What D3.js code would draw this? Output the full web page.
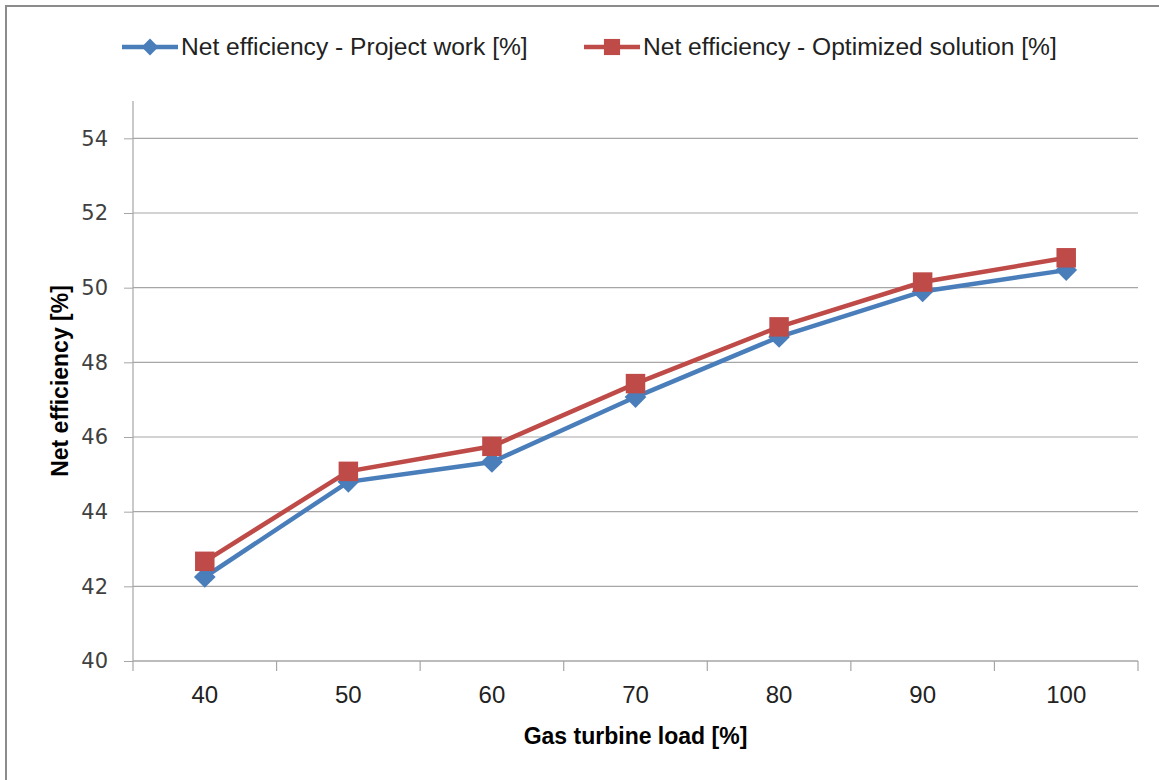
<!DOCTYPE html>
<html>
<head>
<meta charset="utf-8">
<script src="https://cdn.jsdelivr.net/npm/d3@7"></script>
<style>
  body { margin: 0; background: #fff; }
</style>
</head>
<body>
<div id="chart"></div>
<script>
// chart data
var loads = ["40", "50", "60", "70", "80", "90", "100"];
var projectWork = [42.25, 44.8, 45.33, 47.07, 48.68, 49.9, 50.47];
var optimized = [42.67, 45.08, 45.75, 47.43, 48.95, 50.15, 50.8];
var yTicks = [40, 42, 44, 46, 48, 50, 52, 54];
var seriesNames = ["Net efficiency - Project work [%]", "Net efficiency - Optimized solution [%]"];

var W = 1159, H = 780;
var margin = {top: 101, right: 21, bottom: 119, left: 133},
    width = W - margin.left - margin.right,
    height = H - margin.top - margin.bottom;

var narrow = "Liberation Sans Narrow, Arial Narrow, sans-serif";

var svg = d3.select("#chart")
  .append("svg")
    .attr("width", W)
    .attr("height", H);

// outer chart border (only left/top visible in picture)
svg.append("rect")
    .attr("x", 6).attr("y", 6)
    .attr("width", W + 10).attr("height", H + 10)
    .attr("fill", "none")
    .attr("stroke", "#8c8c8c")
    .attr("stroke-width", 2);

var g = svg.append("g")
    .attr("transform", "translate(" + margin.left + "," + margin.top + ")");

var x = d3.scaleBand()
    .domain(loads)
    .range([0, width])
    .padding(0);

var y = d3.scaleLinear()
    .domain([40, 55])
    .range([height, 0]);

// gridlines
g.selectAll(".grid")
  .data(yTicks.slice(1))
  .enter().append("line")
    .attr("x1", 0).attr("x2", width)
    .attr("y1", function(d) { return y(d); })
    .attr("y2", function(d) { return y(d); })
    .attr("stroke", "#a6a6a6")
    .attr("stroke-width", 1.2);

// Y axis
var yAxis = g.append("g")
    .call(d3.axisLeft(y).tickValues(yTicks).tickSize(9).tickPadding(16));
yAxis.select(".domain").attr("stroke", "#a6a6a6").attr("stroke-width", 1.2)
    .attr("d", "M0," + height + "V0");
yAxis.selectAll(".tick line").attr("stroke", "#a6a6a6");
yAxis.selectAll("text")
    .attr("font-family", "DejaVu Sans, Verdana, sans-serif")
    .attr("font-size", "21px")
    .attr("fill", "#404040");

// X axis: boundary ticks between categories
var xAxisG = g.append("g")
    .attr("transform", "translate(0," + height + ")");
xAxisG.append("line")
    .attr("x1", 0).attr("x2", width)
    .attr("stroke", "#a6a6a6").attr("stroke-width", 1.5);
var bounds = loads.map(function(d) { return x(d); }).concat([width]);
xAxisG.selectAll(".xt")
  .data(bounds)
  .enter().append("line")
    .attr("x1", function(d) { return d; })
    .attr("x2", function(d) { return d; })
    .attr("y1", 0).attr("y2", 10)
    .attr("stroke", "#a6a6a6").attr("stroke-width", 1.2);
xAxisG.selectAll(".xl")
  .data(loads)
  .enter().append("text")
    .attr("x", function(d) { return x(d) + x.bandwidth() / 2; })
    .attr("y", 42)
    .attr("text-anchor", "middle")
    .attr("font-family", narrow)
    .attr("font-size", "24px")
    .attr("fill", "#222")
    .text(function(d) { return d; });

// axis titles
svg.append("text")
    .attr("x", margin.left + width / 2)
    .attr("y", 744)
    .attr("text-anchor", "middle")
    .attr("font-family", narrow)
    .attr("font-weight", "bold")
    .attr("font-size", "23px")
    .text("Gas turbine load [%]");

svg.append("text")
    .attr("transform", "translate(68,381) rotate(-90)")
    .attr("text-anchor", "middle")
    .attr("font-family", narrow)
    .attr("font-weight", "bold")
    .attr("font-size", "23px")
    .text("Net efficiency [%]");

var line = d3.line()
    .x(function(d, i) { return x(loads[i]) + x.bandwidth() / 2; })
    .y(function(d) { return y(d); });

var blue = "#4a7ebb", red = "#be4b48";

g.append("path").datum(projectWork)
    .attr("d", line).attr("fill", "none")
    .attr("stroke", blue).attr("stroke-width", 4.5);
g.append("path").datum(optimized)
    .attr("d", line).attr("fill", "none")
    .attr("stroke", red).attr("stroke-width", 4.5);

var diamond = d3.symbol().type(d3.symbolDiamond2).size(300);
var square = d3.symbol().type(d3.symbolSquare).size(380);

g.selectAll(".pw")
  .data(projectWork)
  .enter().append("path")
    .attr("d", diamond)
    .attr("transform", function(d, i) {
      return "translate(" + (x(loads[i]) + x.bandwidth() / 2) + "," + y(d) + ")"; })
    .attr("fill", blue);
g.selectAll(".op")
  .data(optimized)
  .enter().append("path")
    .attr("d", square)
    .attr("transform", function(d, i) {
      return "translate(" + (x(loads[i]) + x.bandwidth() / 2) + "," + y(d) + ")"; })
    .attr("fill", red);

// legend
var legendX = [122, 584];
var legendColors = [blue, red];
var legendSym = [d3.symbol().type(d3.symbolDiamond2).size(180), d3.symbol().type(d3.symbolSquare).size(260)];
seriesNames.forEach(function(name, i) {
  var lg = svg.append("g").attr("transform", "translate(" + legendX[i] + ",47)");
  lg.append("line").attr("x1", 0).attr("x2", 56)
    .attr("stroke", legendColors[i]).attr("stroke-width", 4.5);
  lg.append("path").attr("d", legendSym[i]).attr("transform", "translate(28,0)")
    .attr("fill", legendColors[i]);
  lg.append("text").attr("x", 59).attr("y", 8)
    .attr("font-family", narrow)
    .attr("font-size", "24.6px")
    .attr("fill", "#222")
    .text(name);
});
</script>
</body>
</html>
